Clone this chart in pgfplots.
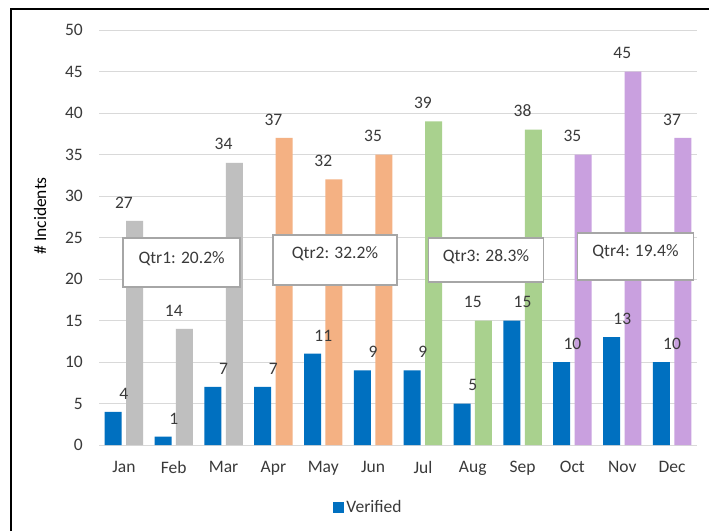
\documentclass[border=0pt]{standalone}
\usepackage{pgfplots}
\pgfplotsset{compat=1.18}
\usepackage{fontspec}
\setmainfont{Carlito}
\definecolor{vblue}{HTML}{0070C0}
\definecolor{qgray}{HTML}{BFBFBF}
\definecolor{qorange}{HTML}{F4B183}
\definecolor{qgreen}{HTML}{A9D18E}
\definecolor{qpurple}{HTML}{C9A0DF}
\definecolor{txt}{HTML}{3A3A3A}
\definecolor{boxc}{HTML}{A6A6A6}
\begin{document}
\begin{tikzpicture}
\path[use as bounding box] (0pt,0pt) rectangle (709pt,531pt);
\fill[white] (0pt,0pt) rectangle (709pt,531pt);
\draw[black, line width=1.5pt] (11pt,0pt) -- (11pt,522pt) -- (709pt,522pt);
\begin{axis}[
  at={(99pt,86pt)}, anchor=south west,
  scale only axis, width=598pt, height=415pt,
  xmin=-0.5, xmax=11.5, ymin=0, ymax=50,
  ytick={0,5,...,50},
  xtick={0,...,11},
  xticklabels={Jan,Feb,Mar,Apr,May,Jun,Jul,Aug,Sep,Oct,Nov,Dec},
  ymajorgrids, grid style={draw=black!15, line width=1pt},
  axis line style={draw=none},
  major tick length=0pt,
  tick label style={font=\fontsize{17.5}{17.5}\selectfont, text=txt},
  /pgf/number format/assume math mode=true,
  xticklabel style={anchor=north, inner sep=0pt, yshift=-16pt},
  yticklabel style={anchor=east, inner sep=0pt, xshift=-16pt},
  every axis y label/.style={at={(rel axis cs:0,0.552)}, xshift=-59pt, rotate=90, anchor=center, font=\fontsize{17.5}{17.5}\selectfont, text=black},
  ylabel={\# Incidents},
  legend style={at={(rel axis cs:0.4507,-0.1494)}, anchor=center, draw=none, fill=none, font=\fontsize{17.5}{17.5}\selectfont, text=txt},
  nodes near coords style={font=\fontsize{17.5}{17.5}\selectfont, text=txt, anchor=south, inner sep=0pt, yshift=12.5pt},
  clip=false,
]
\addplot[ybar, bar width=0.34, bar shift=-0.215, fill=vblue, draw=none, nodes near coords,
  legend image code/.code={\fill[vblue] (0pt,-5.5pt) rectangle (11pt,5.5pt);}]
  coordinates {(0,4) (1,1) (2,7) (3,7) (4,11) (5,9) (6,9) (7,5) (8,15) (9,10) (10,13) (11,10)};
\addlegendentry{Verified}
\addplot[ybar, bar width=0.34, bar shift=0.215, fill=qgray, draw=none, nodes near coords, forget plot]
  coordinates {(0,27) (1,14) (2,34)};
\addplot[ybar, bar width=0.34, bar shift=0.215, fill=qorange, draw=none, nodes near coords, forget plot]
  coordinates {(3,37) (4,32) (5,35)};
\addplot[ybar, bar width=0.34, bar shift=0.215, fill=qgreen, draw=none, nodes near coords, forget plot]
  coordinates {(6,39) (7,15) (8,38)};
\addplot[ybar, bar width=0.34, bar shift=0.215, fill=qpurple, draw=none, nodes near coords, forget plot]
  coordinates {(9,35) (10,45) (11,37)};
% quarter annotation boxes
\draw[boxc, fill=white, line width=1.2pt] (axis cs:-0.018,19.04) rectangle (axis cs:2.33,24.94);
\node[font=\fontsize{17.5}{17.5}\selectfont, text=txt] at (axis cs:1.157,22.5) {Qtr1: 20.2\%};
\draw[boxc, fill=white, line width=1.2pt] (axis cs:2.99,19.28) rectangle (axis cs:5.48,25.3);
\node[font=\fontsize{17.5}{17.5}\selectfont, text=txt] at (axis cs:4.235,23.0) {Qtr2: 32.2\%};
\draw[boxc, fill=white, line width=1.2pt] (axis cs:6.11,19.64) rectangle (axis cs:8.42,24.94);
\node[font=\fontsize{17.5}{17.5}\selectfont, text=txt] at (axis cs:7.265,22.65) {Qtr3: 28.3\%};
\draw[boxc, fill=white, line width=1.2pt] (axis cs:9.10,19.88) rectangle (axis cs:11.43,25.54);
\node[font=\fontsize{17.5}{17.5}\selectfont, text=txt] at (axis cs:10.265,23.25) {Qtr4: 19.4\%};
\end{axis}
\end{tikzpicture}
\end{document}
